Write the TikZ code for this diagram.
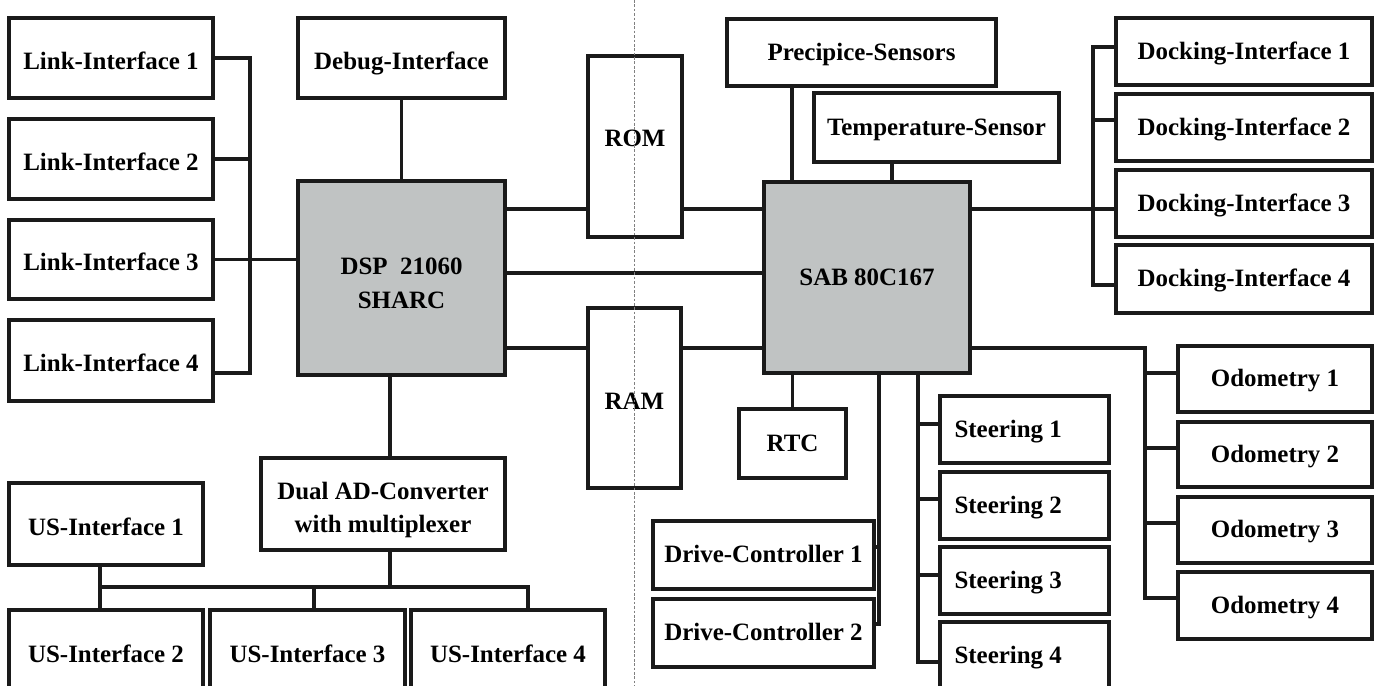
\documentclass[tikz,border=0pt]{standalone}
\usepackage{fontspec}
\setmainfont{Liberation Serif}
\definecolor{ln}{HTML}{1A1A1A}
\definecolor{chipgray}{HTML}{C0C3C3}
\definecolor{sepc}{HTML}{808080}
\newcommand\blk[7][box]{\node[#1,minimum width={(#5-#3)*0.02cm},minimum height={(#6-#4)*0.02cm}] (#2) at ({(#3+#5)/2},{(#4+#6)/2}) {#7};}
\begin{document}
\begin{tikzpicture}[x=0.02cm,y=-0.02cm,
  basebox/.style={draw=ln, line width=2.1pt, inner sep=0pt, outer sep=0pt,
    font=\fontsize{14.2}{19}\selectfont\bfseries, align=center},
  box/.style={basebox, text height=0.86em, text depth=0pt},
  boxlow/.style={basebox, text height=1.3em, text depth=0pt},
  boxmid/.style={basebox, text height=0.9em, text depth=0pt},
  chip/.style={box, fill=chipgray},
  chipm/.style={basebox, fill=chipgray},
  wire/.style={draw=ln, line width=1.9pt},
  sep/.style={draw=sepc, line width=0.5pt, dash pattern=on 1.5pt off 1pt}]
\useasboundingbox (0,0) rectangle (1379,686);
\clip (0,0) rectangle (1379,686);
\fill[white] (0,0) rectangle (1379,686);

% left column
\blk[boxlow]{L1}{9}{18}{213}{98}{Link-Interface 1}
\blk[boxlow]{L2}{9}{119}{213}{199}{Link-Interface 2}
\blk[boxlow]{L3}{9}{220}{213}{299}{Link-Interface 3}
\blk[boxlow]{L4}{9}{320}{213}{401}{Link-Interface 4}
\blk[boxlow]{Debug}{298}{18}{505}{98}{Debug-Interface}
\blk[chipm,text height=0.66em,text depth=1.04em]{DSP}{298}{181}{505}{375}{\begin{tabular}[t]{@{}c@{}}DSP\hspace{0.5em}21060\\SHARC\end{tabular}}
\blk[basebox,text height=0.66em,text depth=1.2em]{DAD}{261}{458}{505}{550}{\begin{tabular}[t]{@{}c@{}}Dual AD-Converter\\with multiplexer\end{tabular}}
\blk[boxlow]{US1}{9}{483}{203}{565}{US-Interface 1}
\blk[boxmid]{US2}{9}{610}{203}{700}{US-Interface 2}
\blk[boxmid]{US3}{210}{610}{405}{700}{US-Interface 3}
\blk[boxmid]{US4}{411}{610}{605}{700}{US-Interface 4}

% memories
\blk{ROM}{588}{56}{682}{237}{\raisebox{0.16cm}{ROM}}
\blk[boxlow]{RAM}{588}{308}{681}{488}{RAM}

% right side
\blk[chip]{SAB}{764}{182}{970}{373}{SAB 80C167}
\blk{Prec}{727}{19}{996}{86}{Precipice-Sensors}
\blk{Temp}{814}{93}{1059}{162}{Temperature-Sensor}
\blk{RTC}{739}{409}{846}{478}{RTC}
\blk{DC1}{653}{521}{874}{589}{Drive-Controller 1}
\blk{DC2}{653}{599}{874}{667}{Drive-Controller 2}
\blk{D1}{1116}{18}{1372}{85}{Docking-Interface 1}
\blk{D2}{1116}{94}{1372}{161}{Docking-Interface 2}
\blk{D3}{1116}{170}{1372}{237}{Docking-Interface 3}
\blk{D4}{1116}{245}{1372}{313}{Docking-Interface 4}
\blk{O1}{1178}{346}{1372}{412}{Odometry 1}
\blk{O2}{1178}{422}{1372}{487}{Odometry 2}
\blk{O3}{1178}{497}{1372}{563}{Odometry 3}
\blk{O4}{1178}{572}{1372}{639}{Odometry 4}
\blk{S1}{940}{396}{1109}{463}{\makebox[2.8cm][l]{Steering 1}}
\blk{S2}{940}{472}{1109}{539}{\makebox[2.8cm][l]{Steering 2}}
\blk{S3}{940}{547}{1109}{614}{\makebox[2.8cm][l]{Steering 3}}
\blk{S4}{940}{622}{1109}{690}{\makebox[2.8cm][l]{Steering 4}}

% helper coordinates
\coordinate (lbx) at (250,0);
\coordinate (l4y) at (0,373);
\coordinate (dadx) at (390,0);
\coordinate (usy) at (0,587);
\coordinate (us1x) at (100,0);
\coordinate (us3x) at (314,0);
\coordinate (us4x) at (528,0);
\coordinate (r1) at (0,209);
\coordinate (r2) at (0,273);
\coordinate (r3) at (0,348);
\coordinate (px) at (792,0);
\coordinate (tx) at (892,0);
\coordinate (dbx) at (1093,0);
\coordinate (dy1) at (0,47);
\coordinate (dy2) at (0,120);
\coordinate (dy4) at (0,285);
\coordinate (obx) at (1145,0);
\coordinate (oy1) at (0,373);
\coordinate (oy2) at (0,448);
\coordinate (oy3) at (0,523);
\coordinate (oy4) at (0,598);
\coordinate (sbx) at (918,0);
\coordinate (sy1) at (0,424);
\coordinate (sy2) at (0,499);
\coordinate (sy3) at (0,575);
\coordinate (sy4) at (0,662);
\coordinate (dcx) at (879,0);
\coordinate (dcy1) at (0,547);
\coordinate (dcy2) at (0,624);
\coordinate (sepT) at (634,0);
\coordinate (sepB) at (634,686);

% link bus
\draw[wire] (L1.east) -| (lbx |- l4y) -- (L4.east |- l4y);
\draw[wire] (L2.east) -- (L2.east -| lbx);
\draw[wire] (L3.east) -- (L3.east -| DSP.west);
% DSP
\draw[wire] (Debug.south) -- (Debug.south |- DSP.north);
\draw[wire] (DSP.south -| dadx) -- (DAD.north -| dadx);
\draw[wire] (DAD.south -| dadx) -- (dadx |- usy);
\draw[wire] (US1.south -| us1x) -- (US2.north -| us1x);
\draw[wire] (us1x |- usy) -- (us4x |- usy) -- (US4.north -| us4x);
\draw[wire] (us3x |- usy) -- (US3.north -| us3x);
% memories and inter-processor
\draw[wire] (DSP.east |- r1) -- (ROM.west |- r1);
\draw[wire] (ROM.east |- r1) -- (SAB.west |- r1);
\draw[wire] (DSP.east |- r2) -- (SAB.west |- r2);
\draw[wire] (DSP.east |- r3) -- (RAM.west |- r3);
\draw[wire] (RAM.east |- r3) -- (SAB.west |- r3);
% SAB
\draw[wire] (Prec.south -| px) -- (SAB.north -| px);
\draw[wire] (Temp.south -| tx) -- (SAB.north -| tx);
\draw[wire] (RTC.north) -- (RTC.north |- SAB.south);
% docking
\draw[wire] (SAB.east |- r1) -- (D3.west |- r1);
\draw[wire] (D1.west |- dy1) -| (dbx |- dy4) -- (D4.west |- dy4);
\draw[wire] (D2.west |- dy2) -- (dbx |- dy2);
% odometry
\draw[wire] (SAB.east |- r3) -| (obx |- oy4) -- (O4.west |- oy4);
\draw[wire] (O1.west |- oy1) -- (obx |- oy1);
\draw[wire] (O2.west |- oy2) -- (obx |- oy2);
\draw[wire] (O3.west |- oy3) -- (obx |- oy3);
% steering
\draw[wire] (SAB.south -| sbx) |- (S4.west |- sy4);
\draw[wire] (S1.west |- sy1) -- (sbx |- sy1);
\draw[wire] (S2.west |- sy2) -- (sbx |- sy2);
\draw[wire] (S3.west |- sy3) -- (sbx |- sy3);
% drive controllers
\draw[wire] (SAB.south -| dcx) |- (DC2.east |- dcy2);
\draw[wire] (DC1.east |- dcy1) -- (dcx |- dcy1);

% separator
\draw[sep] (sepT) -- (sepB);
\end{tikzpicture}
\end{document}
